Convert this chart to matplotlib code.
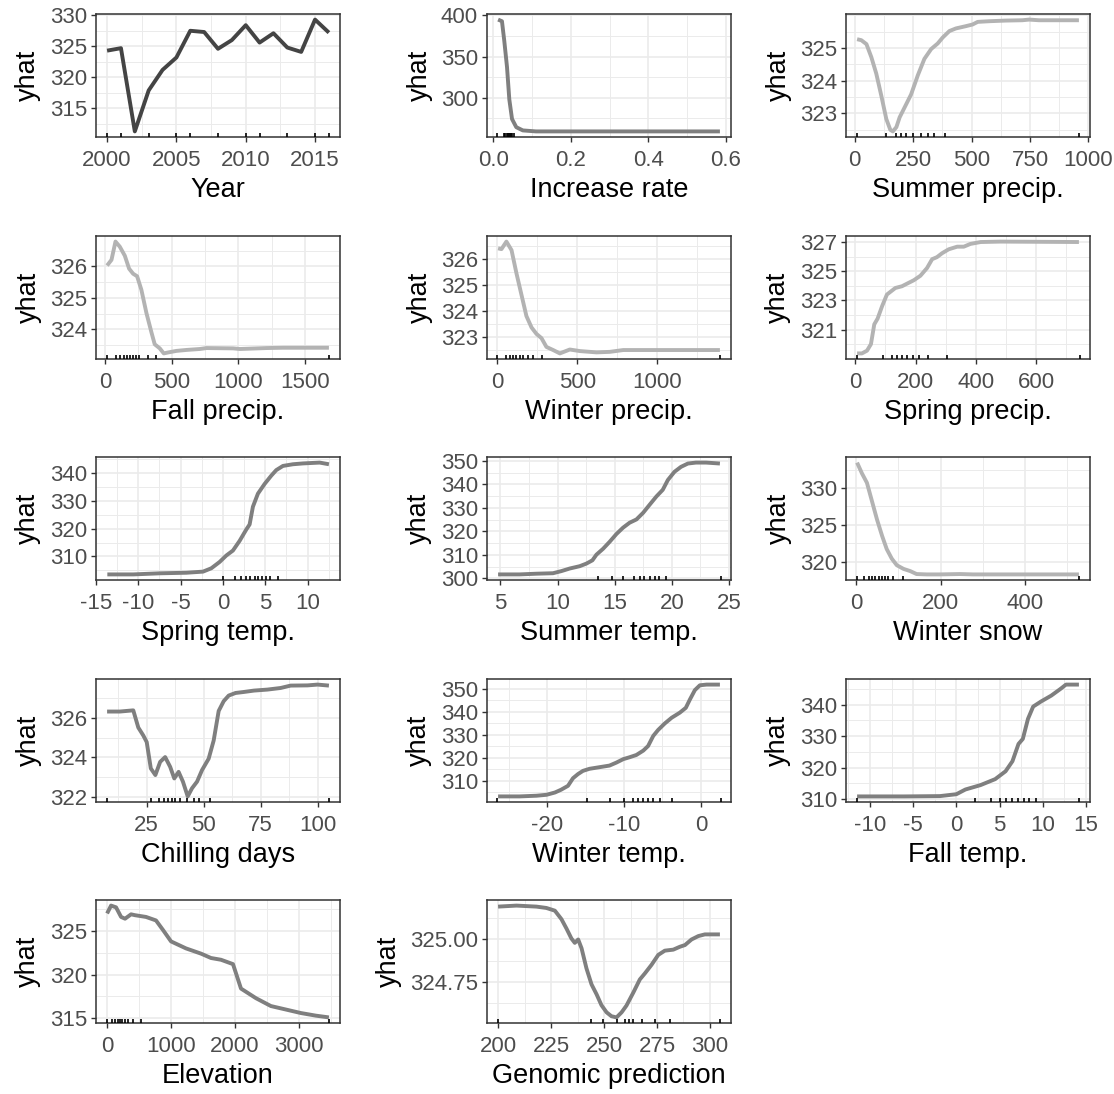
import matplotlib
matplotlib.use("Agg")
import matplotlib.pyplot as plt
from matplotlib.ticker import AutoMinorLocator, FormatStrFormatter

plt.rcParams['font.family'] = ['Liberation Sans', 'DejaVu Sans']
plt.rcParams['axes.unicode_minus'] = False

# partial dependence curves
year_x = [2000, 2001, 2002, 2003, 2004, 2005, 2006, 2007, 2008, 2009, 2010, 2011, 2012, 2013, 2014, 2015, 2016]
year_y = [324.3, 324.7, 311.3, 317.9, 321.2, 323.2, 327.5, 327.3, 324.6, 326.0, 328.4, 325.6, 327.1, 324.8, 324.1, 329.3, 327.2]
year_rug = [2000, 2001, 2003, 2005, 2006, 2008, 2010, 2011, 2013, 2015, 2016]

rate_x = [0.012, 0.022, 0.028, 0.035, 0.041, 0.048, 0.059, 0.076, 0.11, 0.3, 0.585]
rate_y = [394.9, 392.9, 369.0, 337.5, 298.0, 274.3, 264.4, 260.5, 259.3, 259.3, 259.3]
rate_rug = [0.01, 0.028, 0.031, 0.034, 0.037, 0.040, 0.043, 0.046, 0.049, 0.052]

sprec_x = [10, 28, 50, 71, 92, 114, 135, 152, 163, 178, 192, 213, 241, 270, 298, 327, 355, 376, 405, 433,
           476, 504, 526, 575, 646, 717, 746, 788, 959]
sprec_y = [325.27, 325.24, 325.12, 324.72, 324.22, 323.53, 322.83, 322.5, 322.45, 322.58, 322.88, 323.18,
           323.58, 324.17, 324.67, 324.97, 325.14, 325.32, 325.52, 325.6, 325.67, 325.72, 325.8, 325.82,
           325.84, 325.85, 325.87, 325.85, 325.85]
sprec_rug = [10, 132, 178, 199, 220, 249, 284, 313, 341, 384, 959]

fprec_x = [15, 48, 78, 110, 148, 180, 210, 240, 272, 310, 348, 372, 410, 440, 472, 535, 610, 710, 760, 960,
           1010, 1210, 1335, 1678]
fprec_y = [326.03, 326.21, 326.79, 326.63, 326.34, 325.93, 325.77, 325.69, 325.26, 324.52, 323.9, 323.53,
           323.4, 323.24, 323.27, 323.32, 323.35, 323.38, 323.41, 323.4, 323.38, 323.41, 323.42, 323.42]
fprec_rug = [15, 85, 115, 140, 165, 190, 212, 235, 255, 320, 385, 1680]

wprec_x = [6, 27, 58, 90, 121, 152, 183, 215, 246, 277, 308, 350, 392, 454, 517, 621, 704, 788, 871, 1392]
wprec_y = [326.41, 326.38, 326.67, 326.34, 325.44, 324.62, 323.8, 323.36, 323.11, 322.95, 322.61, 322.49,
           322.36, 322.51, 322.45, 322.4, 322.42, 322.49, 322.49, 322.49]
wprec_rug = [2, 58, 79, 100, 121, 142, 163, 194, 225, 283, 1392]

spprec_x = [6, 22, 39, 52, 63, 74, 89, 105, 133, 155, 172, 194, 216, 238, 255, 271, 288, 310, 338, 360,
            382, 416, 482, 742]
spprec_y = [319.36, 319.36, 319.55, 320.0, 321.36, 321.75, 322.61, 323.41, 323.86, 323.98, 324.16, 324.39,
            324.7, 325.23, 325.84, 325.98, 326.25, 326.52, 326.7, 326.7, 326.89, 327.02, 327.05, 327.02]
spprec_rug = [5, 92, 122, 139, 155, 172, 190, 210, 240, 305, 745]

sptemp_x = [-13.66, -10.6, -7.44, -4.33, -2.36, -1.38, -0.39, 0.39, 1.18, 1.97, 2.76, 3.15, 3.54, 4.13,
            4.92, 5.71, 6.3, 7.09, 8.27, 9.45, 11.42, 12.52]
sptemp_y = [303.5, 303.5, 303.9, 304.1, 304.5, 305.7, 308.0, 310.3, 312.1, 315.6, 319.7, 321.5, 327.9,
            332.6, 336.1, 339.1, 341.1, 342.6, 343.2, 343.5, 343.8, 343.2]
sptemp_rug = [0.0, 1.38, 2.17, 2.76, 3.23, 3.74, 4.13, 4.61, 5.12, 5.59, 6.5]

sutemp_x = [4.8, 6.69, 8.15, 9.6, 10.33, 11.06, 11.94, 12.52, 13.05, 13.4, 13.98, 14.56, 15.15, 15.73,
            16.3, 16.9, 17.48, 18.06, 18.65, 19.2, 19.65, 20.23, 20.8, 21.4, 22.1, 23.0, 24.2]
sutemp_y = [301.7, 301.7, 302.0, 302.2, 303.1, 304.2, 305.2, 306.3, 307.7, 310.1, 312.6, 315.6, 318.9,
            321.6, 323.7, 325.1, 327.9, 331.4, 334.9, 337.7, 341.9, 345.4, 347.5, 348.9, 349.3, 349.3, 348.9]
sutemp_rug = [13.5, 14.8, 15.7, 16.7, 17.2, 17.6, 18.1, 18.5, 18.9, 19.5, 24.3]

snow_x = [1.6, 13, 25, 37, 49, 61, 72, 84, 96, 112, 128, 143, 167, 198, 246, 277, 356, 529]
snow_y = [333.45, 332.0, 330.7, 328.2, 325.7, 323.5, 321.7, 320.4, 319.5, 319.0, 318.7, 318.3, 318.25,
          318.25, 318.3, 318.25, 318.25, 318.25]
snow_rug = [1.6, 19, 29, 37, 45, 53, 61, 69, 76, 87, 110, 529]

chill_x = [7.6, 13.2, 19.1, 21.3, 23.5, 25.0, 26.8, 28.8, 30.9, 33.1, 35.3, 37.1, 39.0, 40.9, 43.0, 44.9,
           47.1, 49.3, 52.2, 54.4, 56.6, 58.8, 61.0, 64.0, 67.6, 72.1, 78.0, 83.8, 88.2, 95.6, 100, 105]
chill_y = [326.3, 326.3, 326.36, 325.5, 325.1, 324.77, 323.45, 323.12, 323.78, 324.02, 323.53, 322.95,
           323.28, 322.79, 322.05, 322.46, 322.79, 323.37, 323.94, 324.85, 326.33, 326.82, 327.1, 327.23,
           327.28, 327.35, 327.4, 327.48, 327.6, 327.61, 327.65, 327.6]
chill_rug = [7.6, 26.8, 30.6, 32.6, 34.5, 36.0, 37.5, 39.7, 42.6, 45.6, 47.9, 52.8, 105]

wtemp_x = [-26.4, -23.6, -21.4, -20.1, -19.0, -18.2, -17.3, -16.65, -16.0, -15.35, -14.5, -13.2, -11.9,
           -11.0, -10.1, -9.3, -8.4, -7.5, -6.87, -6.2, -5.56, -4.7, -3.8, -2.74, -1.96, -1.43, -0.78,
           -0.13, 0.74, 2.48]
wtemp_y = [303.1, 303.1, 303.4, 303.8, 304.8, 306.0, 307.7, 311.0, 312.8, 314.2, 315.1, 315.8, 316.5,
           317.8, 319.3, 320.1, 321.1, 323.0, 325.0, 329.4, 332.0, 334.8, 337.3, 339.5, 341.6, 345.2,
           349.3, 351.4, 351.7, 351.7]
wtemp_rug = [-26.5, -14.8, -11.8, -10.0, -8.8, -8.2, -7.5, -6.9, -6.2, -5.3, -3.8, 2.6]

ftemp_x = [-11.5, -6.0, -1.9, 0.0, 1.05, 2.8, 4.5, 5.7, 6.5, 7.2, 7.7, 8.3, 8.9, 9.8, 11.0, 12.1, 12.7, 14.2]
ftemp_y = [310.8, 310.8, 310.9, 311.5, 313.0, 314.4, 316.3, 318.8, 322.0, 327.5, 329.1, 335.5, 339.4,
           341.0, 342.9, 345.1, 346.4, 346.4]
ftemp_rug = [-11.5, 2.2, 4.0, 5.0, 5.8, 6.5, 7.2, 7.8, 8.4, 9.2, 14.2]

elev_x = [0, 62, 140, 219, 281, 375, 437, 609, 765, 875, 1000, 1234, 1469, 1625, 1781, 1969, 2094, 2328,
          2562, 2797, 3031, 3266, 3469]
elev_y = [327.0, 327.9, 327.7, 326.6, 326.4, 326.9, 326.8, 326.6, 326.2, 325.1, 323.8, 323.0, 322.4, 321.9,
          321.7, 321.2, 318.4, 317.3, 316.4, 316.0, 315.6, 315.3, 315.1]
elev_rug = [0, 80, 130, 170, 200, 240, 280, 330, 400, 530, 3470]

geno_x = [200, 208.7, 218.1, 222.8, 226.8, 229.9, 232.3, 234.6, 236.2, 237.8, 239.4, 241.7, 244.1, 246.5,
          248.8, 251.2, 253.5, 255.9, 258.3, 260.6, 263.8, 266.9, 269.3, 272.4, 275.6, 278.7, 282.7,
          285.8, 288.2, 291.3, 294.5, 297.6, 300, 304.7]
geno_y = [325.194, 325.2, 325.194, 325.186, 325.17, 325.12, 325.064, 325.006, 324.98, 325.0, 324.948,
          324.83, 324.735, 324.676, 324.612, 324.57, 324.547, 324.54, 324.57, 324.61, 324.686, 324.764,
          324.8, 324.85, 324.909, 324.934, 324.94, 324.957, 324.967, 325.0, 325.02, 325.03, 325.03, 325.03]
geno_rug = [200, 244, 249.6, 255.9, 259.8, 261.9, 263.8, 267.7, 274, 281, 304.7]

# (label, x, y, rug, x ticks, y ticks, line colour)
panels = [
    ("Year", year_x, year_y, year_rug, [2000, 2005, 2010, 2015], [315, 320, 325, 330], "#444444"),
    ("Increase rate", rate_x, rate_y, rate_rug, [0, 0.2, 0.4, 0.6], [300, 350, 400], "#7f7f7f"),
    ("Summer precip.", sprec_x, sprec_y, sprec_rug, [0, 250, 500, 750, 1000], [323, 324, 325], "#b3b3b3"),
    ("Fall precip.", fprec_x, fprec_y, fprec_rug, [0, 500, 1000, 1500], [324, 325, 326], "#b3b3b3"),
    ("Winter precip.", wprec_x, wprec_y, wprec_rug, [0, 500, 1000], [323, 324, 325, 326], "#b3b3b3"),
    ("Spring precip.", spprec_x, spprec_y, spprec_rug, [0, 200, 400, 600], [321, 323, 325, 327], "#b3b3b3"),
    ("Spring temp.", sptemp_x, sptemp_y, sptemp_rug, [-15, -10, -5, 0, 5, 10], [310, 320, 330, 340], "#7f7f7f"),
    ("Summer temp.", sutemp_x, sutemp_y, sutemp_rug, [5, 10, 15, 20, 25], [300, 310, 320, 330, 340, 350], "#7f7f7f"),
    ("Winter snow", snow_x, snow_y, snow_rug, [0, 200, 400], [320, 325, 330], "#b3b3b3"),
    ("Chilling days", chill_x, chill_y, chill_rug, [25, 50, 75, 100], [322, 324, 326], "#7f7f7f"),
    ("Winter temp.", wtemp_x, wtemp_y, wtemp_rug, [-20, -10, 0], [310, 320, 330, 340, 350], "#7f7f7f"),
    ("Fall temp.", ftemp_x, ftemp_y, ftemp_rug, [-10, -5, 0, 5, 10, 15], [310, 320, 330, 340], "#7f7f7f"),
    ("Elevation", elev_x, elev_y, elev_rug, [0, 1000, 2000, 3000], [315, 320, 325], "#7f7f7f"),
    ("Genomic prediction", geno_x, geno_y, geno_rug, [200, 225, 250, 275, 300], [324.75, 325.00], "#7f7f7f"),
]

W, H = 1114, 1094
fig = plt.figure(figsize=(W / 100, H / 100), dpi=100)

col_left = [96, 487, 846]
row_top = [14, 236, 457, 679, 900]
pw, ph = 244, 123

for i, (label, xs, ys, rug, xt, yt, col) in enumerate(panels):
    r, c = divmod(i, 3)
    ax = fig.add_axes([col_left[c] / W, (H - row_top[r] - ph) / H, pw / W, ph / H])
    ax.plot(xs, ys, color=col, lw=2.8, solid_capstyle='butt', zorder=3)
    ax.vlines(rug, 0, 0.03, transform=ax.get_xaxis_transform(), color='black', lw=1.2, zorder=4)

    # ggplot style 5% expansion
    dx = (max(xs) - min(xs)) * 0.05
    dy = (max(ys) - min(ys)) * 0.05
    ax.set_xlim(min(xs) - dx, max(xs) + dx)
    ax.set_ylim(min(ys) - dy, max(ys) + dy)
    ax.set_xticks(xt)
    ax.set_yticks(yt)
    if label == "Genomic prediction":
        ax.yaxis.set_major_formatter(FormatStrFormatter('%.2f'))
    ax.xaxis.set_minor_locator(AutoMinorLocator(2))
    ax.yaxis.set_minor_locator(AutoMinorLocator(2))

    ax.grid(True, which='major', color='#ebebeb', lw=1.2, zorder=0)
    ax.grid(True, which='minor', color='#ebebeb', lw=0.7, zorder=0)
    ax.set_axisbelow(True)
    for s in ax.spines.values():
        s.set_color('#333333')
        s.set_linewidth(1.1)
    ax.tick_params(which='major', direction='out', length=3.5, width=1.0, color='#333333',
                   labelsize=16, labelcolor='#4d4d4d')
    ax.tick_params(axis='x', which='major', pad=6)
    ax.tick_params(axis='y', which='major', pad=3)
    ax.tick_params(which='minor', length=0)

    ax.set_xlabel(label, fontsize=19.5, color='black', labelpad=4)
    ax.set_ylabel("yhat", fontsize=19.5, color='black', labelpad=6)

fig.savefig("out.png", dpi=100)
